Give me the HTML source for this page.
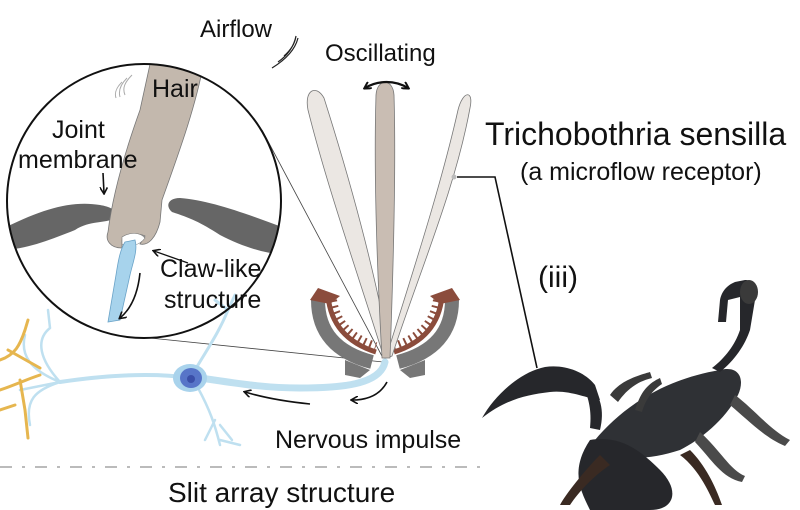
<!DOCTYPE html>
<html><head><meta charset="utf-8"><style>
html,body{margin:0;padding:0;background:#fff;}
svg{display:block;font-family:"Liberation Sans",Arial,sans-serif;}
</style></head><body>
<svg width="800" height="510" viewBox="0 0 800 510" xmlns="http://www.w3.org/2000/svg">
<defs>
<marker id="ah" markerWidth="8" markerHeight="8" refX="6" refY="4" orient="auto" markerUnits="userSpaceOnUse"><path d="M0,0 L7,4 L0,8" fill="none" stroke="#111" stroke-width="1.6"/></marker>
<marker id="ahs" markerWidth="8" markerHeight="8" refX="6" refY="4" orient="auto-start-reverse" markerUnits="userSpaceOnUse"><path d="M0,0 L7,4 L0,8" fill="none" stroke="#111" stroke-width="2"/></marker>
<clipPath id="cc"><circle cx="144" cy="201" r="137"/></clipPath>
</defs>

<line x1="262" y1="130" x2="383" y2="358" stroke="#444" stroke-width="0.8"/>
<line x1="150" y1="338" x2="383" y2="362" stroke="#444" stroke-width="0.8"/>

<!-- neuron -->
<g stroke="#bfe0f0" fill="none" stroke-linecap="round">
<path d="M385,362 C380,385 340,388 300,388 C260,388 230,382 200,378" stroke-width="7"/>
<path d="M190,378 C150,372 100,376 60,382" stroke-width="4"/>
<path d="M60,382 C40,360 35,340 50,328 M60,382 C30,370 20,355 25,335 M60,382 C35,390 25,400 30,425 M60,382 L20,390 M50,328 L48,310" stroke-width="2.5"/>
<path d="M195,370 C210,345 220,330 228,310 M228,310 L235,295 M228,310 L215,300" stroke-width="3"/>
<path d="M198,388 C210,410 215,425 220,445 M220,425 L232,440 M215,420 L205,440 M220,440 L240,445" stroke-width="2.5"/>
</g>
<g stroke="#e6b64f" fill="none" stroke-width="3" stroke-linecap="round">
<path d="M0,360 C15,355 20,345 25,330 M25,330 L28,320 M0,390 C15,385 25,380 40,375 M20,380 L25,410 L28,438 M8,350 L40,368 M0,410 L15,405"/>
</g>
<ellipse cx="190" cy="378" rx="17" ry="14" fill="#a9d3ec"/>
<ellipse cx="191" cy="378" rx="11" ry="10" fill="#5775c8"/>
<ellipse cx="191" cy="379" rx="4" ry="4" fill="#3a4fa8"/>

<!-- circle inset -->
<g clip-path="url(#cc)">
<path d="M0,230 C40,210 70,200 100,205 C112,207 120,212 115,218 C105,224 90,220 75,230 C50,240 25,250 0,250 Z" fill="#666"/>
<path d="M290,230 C250,215 210,200 180,198 C168,198 165,206 172,212 C190,218 200,222 220,235 C245,248 270,255 290,255 Z" fill="#666"/>
<path d="M152,55 L205,55 C198,100 180,150 162,200 L160,222 C156,238 148,246 140,244 L145,236 C138,233 126,232 122,240 L122,248 C110,248 105,240 108,232 C112,200 122,160 140,110 Z" fill="#c3b8ad" stroke="#777" stroke-width="0.8"/>
<path d="M122,237 C130,232 140,232 145,238 C140,245 130,248 122,244 Z" fill="#fff" stroke="#777" stroke-width="0.6"/>
<path d="M125,242 L135,240 C138,250 133,262 130,275 L120,320 L108,322 L116,275 C118,262 120,250 125,242 Z" fill="#a7d3ec" stroke="#6aa3c8" stroke-width="0.8"/>
<path d="M125,95 C122,88 125,82 132,75 M120,97 C118,90 121,84 127,78 M116,98 C114,92 117,87 122,82" stroke="#aaa" fill="none" stroke-width="1"/>
</g>
<circle cx="144" cy="201" r="137" fill="none" stroke="#111" stroke-width="2"/>
<path d="M103,173 L104,193" stroke="#111" stroke-width="1.6" fill="none" marker-end="url(#ah)"/>
<path d="M188,263 L154,251" stroke="#111" stroke-width="1.3" fill="none" marker-end="url(#ah)"/>
<path d="M140,273 C138,292 132,308 120,318" stroke="#111" stroke-width="1.6" fill="none" marker-end="url(#ah)"/>
<text x="152" y="97" font-size="25" fill="#111">Hair</text>
<text x="52" y="138" font-size="25" fill="#111">Joint</text>
<text x="18" y="168" font-size="25" fill="#111">membrane</text>
<text x="160" y="277" font-size="25" fill="#111">Claw-like</text>
<text x="164" y="308" font-size="25" fill="#111">structure</text>

<!-- socket claws -->
<g fill="none">
<path d="M318,300 Q318,348 372,362" stroke="#777" stroke-width="14"/>
<path d="M328,296 Q332,338 376,352" stroke="#8b4c3c" stroke-width="5"/>
<path d="M333,300 Q338,334 376,346" stroke="#8b4c3c" stroke-width="8" stroke-dasharray="2,4"/>
<path d="M452,300 Q452,348 398,362" stroke="#777" stroke-width="14"/>
<path d="M442,296 Q438,338 394,352" stroke="#8b4c3c" stroke-width="5"/>
<path d="M437,300 Q432,334 394,346" stroke="#8b4c3c" stroke-width="8" stroke-dasharray="2,4"/>
</g>
<path d="M310,300 L318,288 L340,296 L330,304 Z" fill="#8b4c3c"/>
<path d="M460,300 L452,288 L430,296 L440,304 Z" fill="#8b4c3c"/>
<path d="M345,360 L370,370 L360,378 L345,375 Z M425,360 L400,370 L410,378 L425,375 Z" fill="#777"/>

<!-- fan hairs -->
<path d="M384,358 C360,280 328,190 308,110 C304,90 316,84 324,98 C350,180 375,270 390,356 Z" fill="#ebe7e3" stroke="#777" stroke-width="0.8"/>
<path d="M386,358 C410,280 440,190 458,110 C463,90 474,90 470,108 C455,190 420,270 392,356 Z" fill="#ebe7e3" stroke="#777" stroke-width="0.8"/>
<path d="M382,358 C376,250 374,160 376,95 C377,78 393,78 394,95 C396,160 394,250 390,358 Z" fill="#c9bdb3" stroke="#777" stroke-width="0.8"/>
<path d="M365,88 C378,80 395,80 408,88" stroke="#111" stroke-width="2.2" fill="none" marker-start="url(#ahs)" marker-end="url(#ahs)"/>

<path d="M387,382 C380,395 368,400 352,400" stroke="#111" stroke-width="1.6" fill="none" marker-end="url(#ah)"/>
<path d="M310,404 C290,402 265,398 245,392" stroke="#111" stroke-width="1.6" fill="none" marker-end="url(#ah)"/>

<path d="M272,68 C285,60 295,50 298,38 M278,62 C288,55 294,46 296,36 M284,56 C291,50 295,43 296,36" stroke="#222" fill="none" stroke-width="1.2"/>
<text x="200" y="37" font-size="24" fill="#111">Airflow</text>
<text x="325" y="61" font-size="24" fill="#111">Oscillating</text>
<text x="485" y="145" font-size="32" fill="#111">Trichobothria sensilla</text>
<text x="520" y="180" font-size="25" fill="#111">(a microflow receptor)</text>
<text x="538" y="287" font-size="30" fill="#111">(iii)</text>
<text x="275" y="448" font-size="25" fill="#111">Nervous impulse</text>
<text x="168" y="502" font-size="28" fill="#111">Slit array structure</text>
<line x1="0" y1="467" x2="482" y2="467" stroke="#bbb" stroke-width="2" stroke-dasharray="12,10,3,10"/>

<circle cx="454" cy="177" r="2.5" fill="#bbb"/>
<path d="M457,177 L495,177 L537,368" stroke="#111" stroke-width="1.6" fill="none"/>

<!-- scorpion -->
<g fill="#26272b">
<path d="M482,418 C495,395 520,372 545,367 C565,364 585,372 595,385 L600,400 C585,398 570,390 550,392 C525,395 505,400 482,418 Z"/>
<path d="M590,385 C600,395 605,410 600,430 L590,428 C592,410 588,398 585,390 Z"/>
<path d="M595,440 C620,410 660,380 720,370 C740,365 745,380 738,395 C725,420 700,440 680,450 C650,460 620,460 600,455 Z" fill="#2f3135"/>
<path d="M720,372 C735,360 745,345 750,330 L755,300 C757,285 752,280 745,280 L735,282 C728,285 722,290 720,300 L718,322 L726,322 L728,300 L740,297 L740,330 C735,345 725,358 712,368 Z"/>
<ellipse cx="749" cy="292" rx="9" ry="12" fill="#3a3a3a"/>
<path d="M590,440 C620,435 640,450 660,470 C680,490 675,510 650,510 L590,510 C580,490 570,470 590,440 Z"/>
<path d="M600,455 C585,470 565,495 560,505 L570,505 C580,490 595,475 610,465 Z" fill="#3a2a22"/>
<path d="M680,455 C700,470 710,495 715,505 L722,505 C715,485 705,465 690,450 Z" fill="#3a2a22"/>
<path d="M735,395 C755,410 770,430 790,440 L785,446 C765,438 748,420 730,405 Z" fill="#4a4a4a"/>
<path d="M700,432 C720,450 730,470 745,476 L742,482 C722,478 712,460 695,442 Z" fill="#4a4a4a"/>
<path d="M610,395 C620,380 640,375 650,372 L652,378 C635,382 625,392 618,402 Z" fill="#3a3a3a"/>
<path d="M635,410 C640,395 645,385 660,378 L662,384 C650,392 645,402 642,412 Z" fill="#3a3a3a"/>
</g>
</svg>
</body></html>
